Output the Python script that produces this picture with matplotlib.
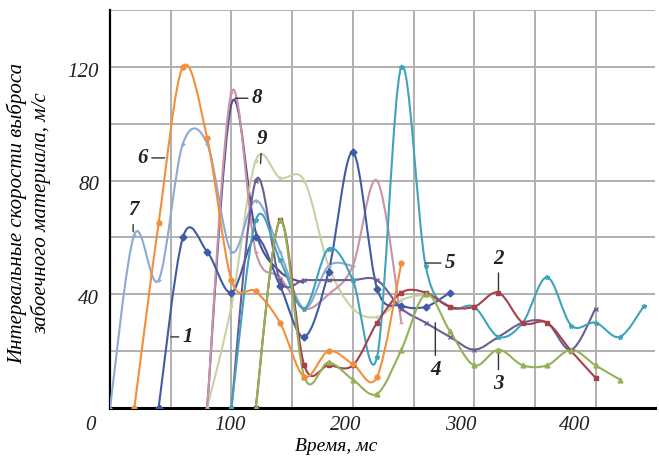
import numpy as np
import matplotlib
matplotlib.use("Agg")
import matplotlib.pyplot as plt
from matplotlib.path import Path
from matplotlib.patches import PathPatch

# ---- data (time, ms ; speed, m/s) ----
s1_x = [40, 60, 80, 100, 120, 140, 160, 180, 200, 220, 240, 260, 280]
s1_y = [0, 60, 55, 40.6, 60, 43, 25, 48, 90, 42, 36, 35.6, 40.6]

s2_x = [120, 140, 160, 180, 200, 220, 240, 260, 280, 300, 320, 340, 360, 380, 400]
s2_y = [0, 66, 15, 15, 15, 30, 40.6, 40.6, 35.6, 35.6, 40.6, 30, 30, 20, 10.6]

s3_x = [120, 140, 160, 180, 200, 220, 240, 260, 280, 300, 320, 340, 360, 380, 400, 420]
s3_y = [0, 66, 11, 16, 10, 5, 20.5, 40, 27, 15, 20.5, 15, 15, 20.5, 15, 10]

s4_x = [100, 120, 140, 160, 180, 200, 220, 240, 260, 280, 300, 320, 340, 360, 380, 400]
s4_y = [0, 80, 45, 45, 45, 45, 45, 35, 30, 25, 20.5, 25, 30, 30, 20.5, 35]

s5_x = [100, 120, 140, 160, 180, 200, 220, 240, 260, 280, 300, 320, 340, 360, 380, 400, 420, 440]
s5_y = [0, 66, 52, 35, 56, 45, 18, 120, 50, 35.6, 35.6, 25, 30, 46, 29, 30, 25, 36]

s6_x = [20, 40, 60, 80, 100, 120, 140, 160, 180, 200, 220, 240]
s6_y = [0, 65, 120, 95, 45, 41, 30, 11, 20, 15.5, 11, 51]

s7_x = [0, 20, 40, 60, 80, 100, 120, 140, 160, 180, 200]
s7_y = [0, 61, 45, 93, 93, 55, 73, 55, 35, 50, 50]

s8_x = [80, 100, 120, 140, 160, 180, 200, 220, 240]
s8_y = [0, 111, 55, 46, 35, 40, 50, 80, 30]

s9_x = [80, 100, 120, 140, 160, 180, 200, 220, 240, 260]
s9_y = [0, 36, 87, 81, 80, 50, 35, 32, 38, 40]

# unlabeled dark curve peaking next to curve 8
s10_x = [80, 100, 120, 140, 160]
s10_y = [0, 107, 62, 48, 44]

series_x = [s1_x, s2_x, s3_x, s4_x, s5_x, s6_x, s7_x, s8_x, s9_x, s10_x]
series_y = [s1_y, s2_y, s3_y, s4_y, s5_y, s6_y, s7_y, s8_y, s9_y, s10_y]
colors = ["#3f5ba3", "#a8404c", "#93b255", "#6e5c96", "#3fa3bb",
          "#f28f3b", "#8eaad3", "#c993a6", "#c9d1a3", "#4d4f8f"]
markers = ["D", "s", "^", "x", "*", "o", "+", "_", ".", "None"]

x_ticks = [0, 100, 200, 300, 400]
y_ticks = [40, 80, 120]


def smooth_path(x, y):
    pts = np.column_stack([x, y]).astype(float)
    n = len(pts)
    verts = [pts[0]]
    codes = [Path.MOVETO]
    for i in range(n - 1):
        p0 = pts[i - 1] if i > 0 else pts[i]
        p1 = pts[i]
        p2 = pts[i + 1]
        p3 = pts[i + 2] if i + 2 < n else pts[i + 1]
        c1 = p1 + (p2 - p0) / 6.0
        c2 = p2 - (p3 - p1) / 6.0
        verts += [c1, c2, p2]
        codes += [Path.CURVE4] * 3
    return Path(verts, codes)


plt.rcParams["font.family"] = ["Liberation Serif", "DejaVu Serif"]
fig = plt.figure(figsize=(6.59, 4.62), dpi=100)
ax = fig.add_axes([0.167, 0.117, 0.827, 0.861])
ax.set_xlim(0, 449)
ax.set_ylim(0, 140)

order = [9, 8, 6, 7, 0, 3, 4, 1, 2, 5]
for i in order:
    xs, ys, c, m = series_x[i], series_y[i], colors[i], markers[i]
    patch = PathPatch(smooth_path(xs, ys), facecolor="none", edgecolor=c,
                      lw=1.5, zorder=3)
    ax.add_patch(patch)
    if m != "None":
        ax.plot(xs, ys, linestyle="none", marker=m, color=c, markersize=3.5,
                mec=c, zorder=4, clip_on=True)

# grid
ax.set_xticks(np.arange(50, 450, 50))
ax.set_yticks(np.arange(20, 141, 20))
ax.grid(True, color="#b0b0b0", lw=1.4)
ax.tick_params(axis="both", which="both", length=0, labelbottom=False,
               labelleft=False)
for s in ["top", "right"]:
    ax.spines[s].set_visible(False)
ax.spines["left"].set_linewidth(1.6)
ax.spines["bottom"].set_linewidth(2.2)

# tick labels (as in the reference, placed slightly off the grid)
tick_font = dict(fontsize=15, style="italic", color="#222222")
for v in y_ticks:
    ax.text(-0.02, v + 1.5, str(v), transform=ax.get_yaxis_transform(),
            ha="right", va="top", **tick_font)
xlab_pos = [-16, 99, 194, 289, 383]
for pos, v in zip(xlab_pos, x_ticks):
    ax.text(pos, -0.02, str(v), transform=ax.get_xaxis_transform(),
            ha="center", va="top", **tick_font)

ax.set_xlabel("Время, мс", fontsize=14, style="italic")
ax.xaxis.set_label_coords(0.415, -0.075)
ax.set_ylabel("Интервальные скорости выброса\nзабоечного материала, м/с",
              fontsize=15, style="italic", linespacing=1.25)
ax.yaxis.set_label_coords(-0.107, 0.49)

# curve labels
lab_font = dict(fontsize=15, style="italic", fontweight="bold", color="#222222")
arrow = dict(arrowstyle="-", color="#333333", lw=1, shrinkA=1, shrinkB=0)
ax.annotate("1", xy=(50, 25), xytext=(60, 25), ha="left", va="center",
            arrowprops=arrow, **lab_font)
ax.annotate("2", xy=(320, 41), xytext=(320, 49), ha="center", va="bottom",
            arrowprops=arrow, **lab_font)
ax.annotate("3", xy=(320, 20), xytext=(320, 12), ha="center", va="top",
            arrowprops=arrow, **lab_font)
ax.annotate("4", xy=(268, 30), xytext=(268, 17), ha="center", va="top",
            arrowprops=arrow, **lab_font)
ax.annotate("5", xy=(260, 51), xytext=(276, 51), ha="left", va="center",
            arrowprops=arrow, **lab_font)
ax.annotate("6", xy=(45, 88), xytext=(31, 88), ha="right", va="center",
            arrowprops=arrow, **lab_font)
ax.annotate("7", xy=(19, 62), xytext=(19, 66), ha="center", va="bottom",
            arrowprops=arrow, **lab_font)
ax.annotate("8", xy=(103, 109), xytext=(117, 109), ha="left", va="center",
            arrowprops=arrow, **lab_font)
ax.annotate("9", xy=(124, 86), xytext=(125, 91), ha="center", va="bottom",
            arrowprops=arrow, **lab_font)

fig.savefig("out.png", dpi=100)
